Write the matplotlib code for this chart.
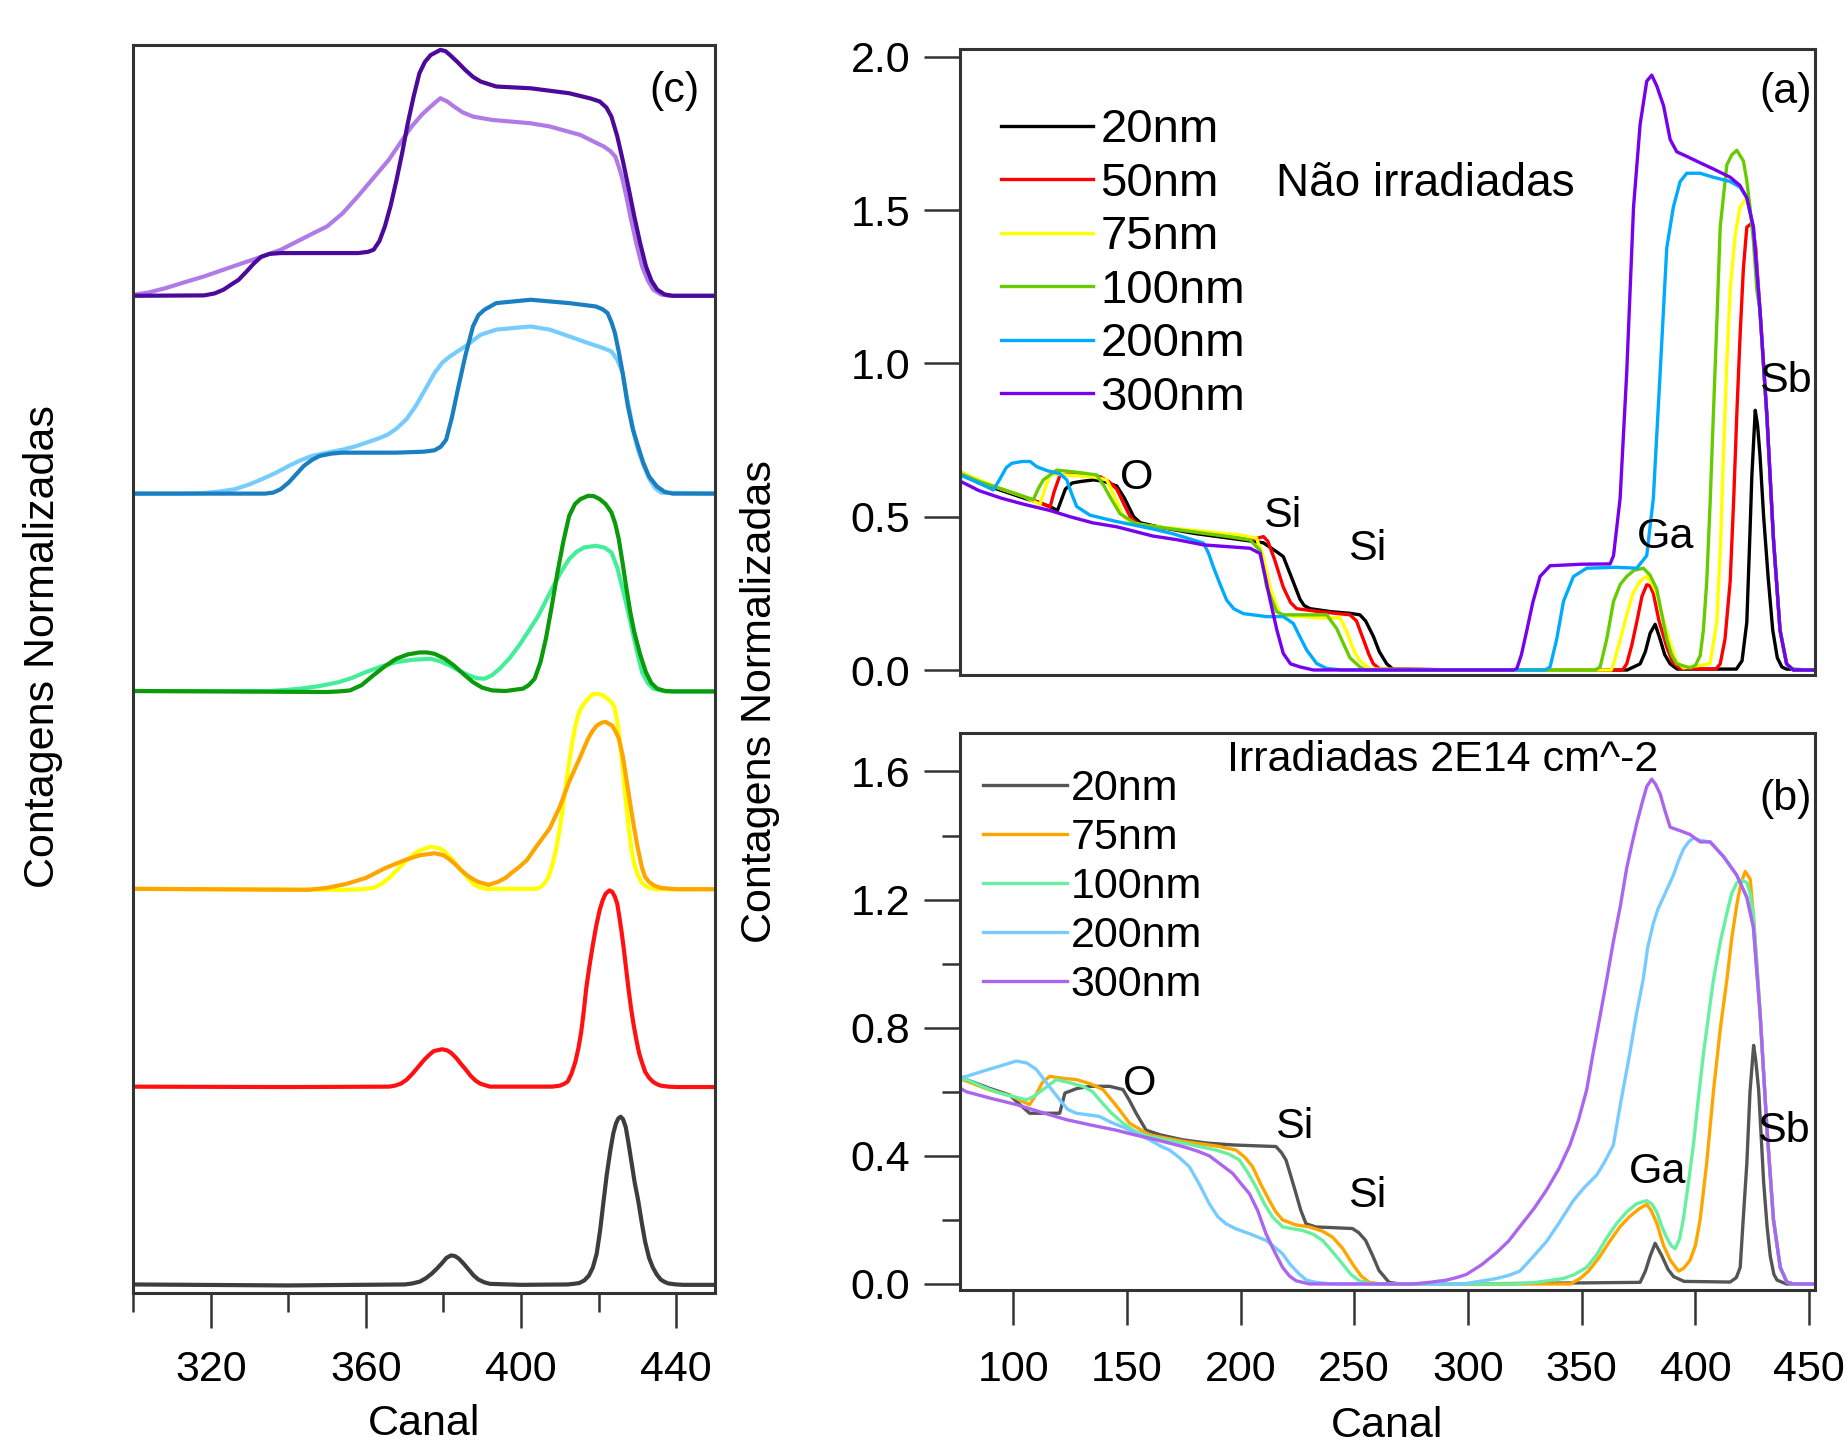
import matplotlib
matplotlib.use('Agg')
import numpy as np
import matplotlib.pyplot as plt
from matplotlib.ticker import MultipleLocator, FormatStrFormatter

plt.rcParams['font.family'] = ['Liberation Sans', 'DejaVu Sans']

# ---------------- data (canal, contagens normalizadas) ----------------
# panel (a): nao irradiadas
A_20NM = [(77, 0.64), (85, 0.61), (95, 0.585), (105, 0.56), (112, 0.545), (117, 0.53), (119.5, 0.52),
          (121, 0.55), (123, 0.59), (126, 0.61), (130, 0.615), (135.4, 0.62), (140, 0.615), (145.6, 0.6),
          (149, 0.56), (153, 0.5), (156, 0.48), (165, 0.465), (180, 0.445), (195, 0.43), (205, 0.42),
          (210, 0.415), (213, 0.4), (216, 0.385), (218.8, 0.37), (222, 0.31), (226.2, 0.23), (228, 0.21),
          (230.6, 0.2), (240, 0.19), (248, 0.185), (252.5, 0.18), (255, 0.16), (258.4, 0.11), (261, 0.06),
          (264.3, 0.02), (267, 0.003), (300, 0.0), (370, 0.0), (375.7, 0.02), (378, 0.06), (380.1, 0.12),
          (382.3, 0.149), (384.5, 0.1), (386.5, 0.05), (388.9, 0.02), (392, 0.003), (418, 0.003),
          (420.5, 0.03), (422.6, 0.156), (424, 0.45), (424.8, 0.63), (426.3, 0.847), (427.3, 0.8),
          (428.4, 0.7), (430, 0.5), (432, 0.3), (434, 0.13), (436, 0.04), (438, 0.01), (440, 0.003), (452, 0)]
A_50NM = [(77, 0.645), (85, 0.615), (95, 0.59), (105, 0.565), (112, 0.545), (116.3, 0.532), (118, 0.58),
          (120.6, 0.635), (125, 0.64), (130, 0.635), (138.3, 0.63), (142, 0.615), (145.6, 0.59),
          (148.5, 0.545), (151.5, 0.5), (155, 0.475), (165, 0.465), (180, 0.45), (195, 0.435), (205, 0.425),
          (210.1, 0.435), (212, 0.42), (215, 0.36), (218.8, 0.27), (222, 0.22), (224.7, 0.2), (235, 0.19),
          (248.1, 0.18), (251, 0.16), (254, 0.1), (256.5, 0.05), (258.4, 0.02), (261.3, 0.003), (300, 0.0),
          (368, 0.0), (369.8, 0.02), (372, 0.08), (374.2, 0.156), (376.5, 0.24), (378.6, 0.278), (380, 0.275),
          (381.5, 0.25), (384, 0.16), (387.4, 0.075), (390, 0.025), (393.3, 0.005), (409, 0.003),
          (410.9, 0.02), (413, 0.1), (415.3, 0.29), (416.8, 0.55), (418.2, 0.834), (419.7, 1.1), (421.1, 1.31),
          (422.6, 1.444), (424.8, 1.457), (426.5, 1.38), (428.4, 1.17), (431.4, 0.83), (434.3, 0.43),
          (437.2, 0.13), (440.1, 0.02), (443, 0), (452, 0)]
A_75NM = [(77, 0.645), (85, 0.62), (95, 0.59), (105, 0.565), (111.8, 0.54), (114, 0.59), (116.3, 0.64),
          (125, 0.635), (135, 0.63), (141.2, 0.62), (145, 0.56), (148.5, 0.5), (152, 0.48), (160, 0.47),
          (180, 0.455), (200, 0.44), (207, 0.43), (210, 0.37), (213, 0.27), (217.4, 0.18), (225, 0.175),
          (235, 0.17), (243.8, 0.17), (247, 0.12), (250, 0.06), (252.5, 0.03), (256.9, 0.003), (300, 0),
          (363, 0.0), (364, 0.02), (367, 0.1), (369.8, 0.18), (372.5, 0.25), (375.7, 0.29), (378.6, 0.305),
          (381, 0.28), (383, 0.25), (386, 0.16), (388.9, 0.088), (391.5, 0.03), (394.7, 0.007), (406.4, 0.02),
          (409.4, 0.156), (411, 0.4), (412.3, 0.7), (413.8, 1.0), (415.3, 1.24), (417.5, 1.42), (419.6, 1.51),
          (422.6, 1.54), (425.5, 1.444), (428.4, 1.17), (431.4, 0.83), (434.3, 0.43), (437.2, 0.13),
          (440.1, 0.02), (443, 0), (452, 0)]
A_100NM = [(77, 0.64), (85, 0.615), (95, 0.59), (103, 0.57), (108.9, 0.555), (111, 0.59), (113.3, 0.62),
           (119.2, 0.652), (128, 0.645), (136.8, 0.636), (140, 0.6), (142.6, 0.565), (147, 0.51),
           (154.4, 0.475), (165, 0.465), (180, 0.45), (195, 0.435), (204.2, 0.424), (208.6, 0.39),
           (211.5, 0.27), (215.9, 0.19), (218.8, 0.18), (230, 0.18), (237.9, 0.18), (242.3, 0.135), (245, 0.09),
           (248.1, 0.04), (252.5, 0.01), (255, 0.0), (300, 0), (356, 0), (358.1, 0.01), (361, 0.1), (364, 0.224),
           (367, 0.28), (369.8, 0.305), (373, 0.325), (377.1, 0.332), (380, 0.31), (383, 0.264), (385, 0.19),
           (387.4, 0.1), (389.5, 0.05), (391.8, 0.02), (397.7, 0.007), (400, 0.015), (402.1, 0.047),
           (403.5, 0.13), (405, 0.29), (406.5, 0.55), (407.9, 0.834), (409.5, 1.15), (410.9, 1.444),
           (413.8, 1.647), (416, 1.68), (418.2, 1.695), (421.1, 1.66), (422.5, 1.6), (424, 1.51), (425.5, 1.4),
           (427, 1.24), (428.4, 1.17), (431.4, 0.83), (434.3, 0.43), (437.2, 0.13), (440.1, 0.02), (443, 0),
           (452, 0)]
A_200NM = [(77, 0.635), (85, 0.61), (91.3, 0.587), (94, 0.62), (97, 0.66), (99.4, 0.674), (104, 0.68),
           (107.5, 0.68), (110.4, 0.663), (115, 0.65), (120.6, 0.64), (123.6, 0.62), (126, 0.57), (128, 0.533),
           (133.8, 0.505), (145, 0.485), (160.2, 0.462), (170, 0.445), (183.7, 0.414), (186, 0.38),
           (188, 0.337), (191, 0.28), (193.9, 0.228), (197, 0.2), (201.2, 0.184), (211.5, 0.174),
           (218.8, 0.174), (223.2, 0.152), (226, 0.11), (229.1, 0.065), (233.5, 0.021), (237.9, 0.005),
           (245, 0.0), (300, 0), (334, 0), (336.1, 0.01), (339, 0.1), (342, 0.224), (346.4, 0.305),
           (352.2, 0.332), (365, 0.335), (374.2, 0.332), (378.6, 0.373), (381.5, 0.56), (384.5, 0.97),
           (387.4, 1.376), (390.3, 1.51), (393.3, 1.593), (396.2, 1.62), (402.1, 1.62), (407.9, 1.607),
           (415.3, 1.593), (419.6, 1.575), (422.6, 1.54), (425.5, 1.444), (428.4, 1.17), (431.4, 0.83),
           (434.3, 0.43), (437.2, 0.13), (440.1, 0.02), (443, 0), (452, 0)]
A_300NM = [(77, 0.615), (85, 0.585), (95, 0.56), (105, 0.54), (116.3, 0.52), (125, 0.5), (135, 0.48),
           (145.6, 0.467), (161.4, 0.437), (172, 0.425), (183.7, 0.408), (195, 0.402), (204.2, 0.397),
           (208.6, 0.38), (211, 0.3), (213, 0.228), (216, 0.13), (218.8, 0.054), (222, 0.02), (226.2, 0.01),
           (232, 0.0), (300, 0), (320, 0), (321.5, 0.005), (323.5, 0.05), (325.9, 0.13), (328.5, 0.22),
           (331.7, 0.305), (336.1, 0.34), (350, 0.345), (362.5, 0.346), (364, 0.373), (366.9, 0.56),
           (369.8, 0.97), (372.8, 1.51), (375.7, 1.78), (378.6, 1.92), (380.8, 1.94), (383, 1.905),
           (386, 1.84), (388.9, 1.73), (391.8, 1.69), (396.2, 1.675), (402.1, 1.654), (407.9, 1.634),
           (415.3, 1.607), (419.6, 1.58), (422.6, 1.54), (425.5, 1.444), (428.4, 1.173), (431.4, 0.834),
           (434.3, 0.427), (437.2, 0.129), (440.1, 0.02), (443, 0), (452, 0)]

# panel (b): irradiadas 2E14 cm^-2
B_20NM = [(77, 0.64), (79.5, 0.638), (90, 0.61), (98.5, 0.59), (103, 0.56), (107.3, 0.533), (115, 0.533),
          (120.5, 0.533), (122.8, 0.596), (128, 0.61), (133.7, 0.617), (142.4, 0.617), (148.3, 0.607),
          (151, 0.575), (154.1, 0.533), (158.5, 0.48), (165, 0.465), (174.6, 0.45), (185, 0.44),
          (196.6, 0.434), (215.6, 0.429), (218, 0.41), (220, 0.387), (222, 0.34), (224.4, 0.282),
          (226.5, 0.23), (228.8, 0.188), (233.1, 0.178), (240, 0.176), (249.2, 0.173), (252, 0.16),
          (255, 0.136), (258, 0.09), (260.9, 0.042), (265.3, 0.005), (270, 0), (300, 0), (375.7, 0.005),
          (378, 0.04), (380.1, 0.087), (382.3, 0.127), (385.3, 0.087), (388, 0.045), (390.4, 0.023),
          (395, 0.008), (415.3, 0.006), (418, 0.02), (419.7, 0.052), (421, 0.2), (422.6, 0.375), (424, 0.6),
          (425.6, 0.745), (426.5, 0.7), (427.8, 0.606), (429, 0.45), (430, 0.318), (431.5, 0.18),
          (432.9, 0.087), (434.5, 0.03), (435.9, 0.012), (440, 0), (452, 0)]
B_75NM = [(77, 0.64), (90, 0.605), (100, 0.585), (104, 0.57), (107.3, 0.56), (110, 0.59), (113, 0.63),
          (116.1, 0.648), (122, 0.642), (127.8, 0.638), (134, 0.625), (139.5, 0.607), (145, 0.56),
          (151.2, 0.502), (160, 0.465), (175, 0.445), (190, 0.43), (198, 0.418), (202, 0.395), (205.3, 0.366),
          (209, 0.31), (212.7, 0.26), (215.5, 0.225), (218.5, 0.2), (224, 0.185), (230.2, 0.178), (236, 0.165),
          (240.5, 0.146), (245, 0.11), (249.2, 0.063), (253, 0.025), (256.6, 0.005), (262, 0), (300, 0),
          (345, 0), (349.3, 0.017), (353, 0.04), (358.1, 0.087), (362, 0.13), (366.9, 0.179), (371, 0.21),
          (375.7, 0.237), (378.6, 0.248), (380.5, 0.23), (383, 0.19), (386, 0.12), (388.9, 0.075),
          (392.6, 0.04), (395, 0.05), (397.7, 0.075), (400, 0.12), (402.1, 0.202), (405, 0.38), (408, 0.606),
          (411, 0.8), (413.9, 0.953), (416, 1.08), (418.2, 1.184), (420, 1.25), (421.9, 1.288),
          (424.1, 1.264), (425.5, 1.15), (427, 1.0), (428.5, 0.84), (431.4, 0.49), (434.3, 0.2),
          (437.3, 0.05), (440.2, 0.006), (443, 0), (452, 0)]
B_100NM = [(77, 0.64), (79.5, 0.638), (87, 0.615), (94.1, 0.596), (100, 0.585), (105.9, 0.575), (109, 0.585),
           (113.2, 0.607), (119, 0.638), (125, 0.628), (130.7, 0.617), (135, 0.6), (138, 0.575), (143, 0.535),
           (148.3, 0.502), (154, 0.475), (160, 0.46), (174.6, 0.44), (189.2, 0.418), (195, 0.405),
           (199.5, 0.387), (203, 0.35), (206.8, 0.303), (210.5, 0.25), (214.1, 0.209), (218.5, 0.178),
           (227.3, 0.167), (232, 0.155), (236.1, 0.136), (240.5, 0.1), (244.8, 0.063), (248.5, 0.03),
           (252.2, 0.01), (258, 0), (300, 0), (320, 0), (330, 0.005), (341.9, 0.017), (347, 0.03),
           (352.2, 0.052), (356.5, 0.09), (361, 0.144), (365.5, 0.19), (369.8, 0.225), (374, 0.25),
           (378.6, 0.26), (380.8, 0.25), (383, 0.225), (385.2, 0.18), (387.4, 0.144), (389.3, 0.12),
           (391.1, 0.11), (393, 0.14), (394.7, 0.202), (397, 0.32), (399.1, 0.433), (401.3, 0.58),
           (403.6, 0.722), (406, 0.85), (408, 0.953), (411, 1.07), (413.9, 1.16), (416, 1.22), (418.2, 1.253),
           (420.5, 1.26), (422.6, 1.253), (424, 1.22), (425.5, 1.15), (427, 1.0), (428.5, 0.837),
           (431.4, 0.49), (434.3, 0.202), (437.3, 0.052), (440.2, 0.006), (443, 0), (452, 0)]
B_200NM = [(77, 0.645), (79.5, 0.648), (87, 0.665), (94.1, 0.68), (101.5, 0.696), (106, 0.69), (110.2, 0.67),
           (115, 0.625), (120.5, 0.575), (124, 0.545), (127.8, 0.533), (133, 0.528), (138, 0.523),
           (143, 0.505), (148.3, 0.49), (154, 0.47), (160, 0.45), (165, 0.43), (168.8, 0.418), (173, 0.395),
           (177.5, 0.366), (182, 0.31), (186.3, 0.25), (190, 0.21), (193.6, 0.188), (198, 0.172),
           (203.9, 0.157), (211.2, 0.136), (215, 0.115), (218.5, 0.094), (222, 0.06), (225.8, 0.031),
           (229, 0.012), (233.1, 0.005), (240, 0), (298, 0), (305, 0.008), (312.6, 0.017), (318, 0.027),
           (322.8, 0.04), (328, 0.08), (334.6, 0.133), (340, 0.19), (346.3, 0.26), (351, 0.3), (356.6, 0.34),
           (360, 0.38), (363.9, 0.433), (367, 0.56), (371.2, 0.722), (374, 0.84), (377.1, 0.953), (379, 1.05),
           (381.5, 1.126), (383.5, 1.17), (385.9, 1.207), (388, 1.24), (390.3, 1.276), (392.5, 1.32),
           (394.7, 1.357), (397, 1.38), (399.1, 1.392), (402.1, 1.385), (406.5, 1.38), (412.4, 1.334),
           (418.2, 1.276), (422.6, 1.207), (425.5, 1.114), (428.5, 0.837), (431.4, 0.49), (434.3, 0.202),
           (437.3, 0.052), (440.2, 0.006), (443, 0), (452, 0)]
B_300NM = [(77, 0.61), (79.5, 0.6), (90, 0.58), (101.5, 0.56), (112, 0.537), (123.4, 0.513), (135, 0.495),
           (145.4, 0.48), (152, 0.468), (160, 0.455), (167, 0.443), (174.6, 0.429), (181, 0.415),
           (186.3, 0.4), (191, 0.375), (196.6, 0.345), (200, 0.315), (203.9, 0.282), (207.5, 0.23),
           (211.2, 0.157), (215, 0.1), (218.5, 0.052), (221.5, 0.025), (224.4, 0.01), (230.2, 0),
           (275.9, 0), (283, 0.005), (290.6, 0.012), (295, 0.02), (299.4, 0.03), (306, 0.06), (312.6, 0.098),
           (318, 0.135), (322.8, 0.179), (329, 0.235), (334.6, 0.294), (340, 0.36), (344.8, 0.433),
           (348.5, 0.51), (352.2, 0.606), (355, 0.72), (358.1, 0.837), (361, 0.95), (363.9, 1.068),
           (367, 1.18), (369.8, 1.299), (372, 1.37), (374.2, 1.438), (376.5, 1.5), (378.6, 1.553),
           (380.8, 1.576), (382.5, 1.56), (384.5, 1.53), (386.5, 1.48), (388.9, 1.426), (393.3, 1.415),
           (397.7, 1.403), (402.1, 1.38), (406.5, 1.38), (412.4, 1.334), (418.2, 1.276), (422.6, 1.207),
           (425.5, 1.114), (428.5, 0.837), (431.4, 0.49), (434.3, 0.202), (437.3, 0.052), (440.2, 0.006),
           (443, 0), (452, 0)]

# panel (c): zoom 300-450, each pair shifted by one unit
C_20NM = [(300, 0.005), (340, 0.0), (370, 0.005), (372, 0.01), (374, 0.02), (375.5, 0.037), (377, 0.06),
          (378.3, 0.085), (379.5, 0.11), (380.8, 0.14), (382, 0.152), (383, 0.148), (384, 0.135),
          (385.2, 0.11), (386.5, 0.08), (387.8, 0.05), (389, 0.03), (390.5, 0.016), (392, 0.008), (400, 0.003),
          (412, 0.005), (413.5, 0.008), (415, 0.012), (416.3, 0.025), (417.5, 0.05), (418.5, 0.09),
          (419.5, 0.16), (420.4, 0.28), (421.3, 0.43), (422.1, 0.56), (423, 0.68), (423.8, 0.77), (424.5, 0.82),
          (425.1, 0.845), (425.7, 0.853), (426.3, 0.84), (427, 0.8), (427.7, 0.72), (428.5, 0.62),
          (429.3, 0.52), (430.2, 0.43), (431.1, 0.32), (432, 0.22), (433, 0.14), (434, 0.09), (435, 0.055),
          (436, 0.03), (437, 0.018), (438, 0.01), (440, 0.005), (442, 0.003), (450, 0.003)]
C_50NM = [(300, 0.005), (340, 0.003), (366, 0.005), (367.5, 0.01), (369, 0.02), (370.5, 0.04), (372, 0.07),
          (373.5, 0.105), (375, 0.14), (376.3, 0.165), (377.5, 0.185), (379.7, 0.194), (381, 0.188),
          (382, 0.175), (383.3, 0.15), (384.5, 0.12), (385.8, 0.09), (387, 0.06), (388.3, 0.035),
          (389.5, 0.02), (392, 0.005), (408, 0.005), (410, 0.01), (411, 0.018), (412, 0.03), (413, 0.07),
          (414, 0.13), (414.8, 0.2), (415.5, 0.28), (416.2, 0.39), (416.8, 0.5), (417.6, 0.61), (418.5, 0.72),
          (419.4, 0.82), (420.3, 0.9), (421.1, 0.95), (421.8, 0.98), (422.8, 0.997), (423.5, 0.99),
          (424.2, 0.965), (424.8, 0.93), (425.3, 0.87), (425.9, 0.79), (426.5, 0.7), (427.1, 0.6),
          (427.7, 0.5), (428.3, 0.41), (429, 0.32), (429.8, 0.235), (430.5, 0.17), (431.3, 0.12), (432, 0.08),
          (433, 0.05), (434, 0.03), (435, 0.018), (436, 0.01), (438, 0.005), (440, 0.003), (450, 0.003)]
C_75NM = [(300, 0.005), (355, 0.0), (359, 0.003), (362, 0.01), (364, 0.03), (366, 0.06), (368, 0.1),
          (370, 0.14), (372, 0.175), (374, 0.2), (376.7, 0.218), (379, 0.21), (380.5, 0.19), (382, 0.16),
          (383.5, 0.125), (385, 0.09), (386.5, 0.055), (388, 0.025), (389.5, 0.012), (391, 0.005),
          (404, 0.005), (405.5, 0.02), (407, 0.06), (408, 0.12), (409, 0.2), (410, 0.31), (411, 0.45),
          (412, 0.59), (413, 0.72), (414, 0.83), (415, 0.9), (416, 0.935), (417, 0.96), (418.5, 0.99),
          (420, 0.99), (421, 0.985), (422, 0.97), (423, 0.955), (424, 0.93), (424.8, 0.85), (425.5, 0.75),
          (426.3, 0.6), (427, 0.45), (427.8, 0.31), (428.5, 0.2), (429.2, 0.13), (430, 0.08), (431, 0.04),
          (432, 0.02), (433.5, 0.008), (435, 0.003), (450, 0.003)]
C_75NM_IRR = [(300, 0.005), (345, 0.0), (350, 0.01), (355, 0.03), (360, 0.06), (365, 0.11), (370, 0.15),
              (374, 0.175), (377.7, 0.185), (380, 0.175), (381.5, 0.155), (383, 0.13), (384.5, 0.1),
              (386, 0.075), (387.5, 0.055), (389, 0.04), (391.6, 0.025), (394, 0.04), (396, 0.06),
              (397.5, 0.085), (399.5, 0.115), (401.5, 0.15), (404, 0.22), (407.4, 0.311), (410, 0.42),
              (412.4, 0.546), (415, 0.66), (417.3, 0.765), (418.5, 0.805), (419.5, 0.83), (420.8, 0.845),
              (421.8, 0.849), (423.5, 0.83), (424.4, 0.8), (425.2, 0.765), (426.2, 0.68), (427, 0.58),
              (428.2, 0.429), (429.1, 0.32), (430, 0.22), (431.2, 0.11), (432, 0.065), (433, 0.04),
              (434.5, 0.02), (436, 0.01), (440, 0.003), (450, 0.003)]
C_100NM = [(300, 0.005), (350, 0.0), (353, 0.003), (355.9, 0.008), (358.9, 0.035), (361.9, 0.084),
           (364.9, 0.13), (367.8, 0.168), (370.8, 0.19), (373.8, 0.2), (375.8, 0.2), (377.7, 0.193),
           (380.2, 0.17), (382.7, 0.134), (385.2, 0.09), (387.6, 0.05), (390, 0.022), (392.6, 0.008),
           (396, 0.005), (400.5, 0.017), (402, 0.035), (403.5, 0.067), (405, 0.15), (406.4, 0.269),
           (407.9, 0.43), (409.4, 0.605), (410.9, 0.76), (412.4, 0.89), (413.9, 0.95), (415.3, 0.975),
           (417.3, 0.992), (418.8, 0.99), (420.3, 0.975), (421.8, 0.95), (423.3, 0.908), (424.3, 0.85),
           (425.2, 0.773), (426.2, 0.65), (427.2, 0.52), (428.2, 0.4), (429.2, 0.303), (430.7, 0.19),
           (432.2, 0.1), (433.6, 0.045), (435.1, 0.017), (437, 0.006), (439.1, 0.003), (450, 0.003)]
C_100NM_IRR = [(300, 0.005), (335, 0.005), (339, 0.01), (343.1, 0.017), (348, 0.03), (353, 0.05),
               (356.5, 0.072), (359.9, 0.1), (363.8, 0.128), (367.8, 0.151), (372, 0.163), (376.7, 0.168),
               (379.2, 0.155), (381.6, 0.134), (384, 0.108), (386.6, 0.084), (388.6, 0.07), (390.6, 0.067),
               (392.5, 0.085), (394.5, 0.118), (397, 0.17), (399.5, 0.235), (402, 0.31), (404.5, 0.387),
               (406.5, 0.465), (408.4, 0.538), (410.4, 0.61), (412.4, 0.672), (414.4, 0.71), (416.3, 0.731),
               (419.3, 0.739), (421.5, 0.73), (423.3, 0.706), (424.8, 0.63), (426.2, 0.521), (427.2, 0.44),
               (428.2, 0.353), (429.7, 0.22), (431.2, 0.1), (432.7, 0.045), (434.1, 0.017), (437.1, 0.003),
               (450, 0.003)]
C_200NM = [(300, 0.003), (334, 0.003), (336.1, 0.008), (338, 0.025), (340.1, 0.059), (342, 0.1), (344, 0.143),
           (346, 0.172), (348, 0.193), (351, 0.205), (353.9, 0.21), (367.8, 0.21), (375, 0.215),
           (377.7, 0.222), (379.3, 0.24), (380.7, 0.276), (382.2, 0.39), (383.7, 0.529), (385.6, 0.697),
           (387.6, 0.848), (389, 0.905), (390.6, 0.933), (393.6, 0.966), (402.5, 0.983), (412.4, 0.966),
           (419.3, 0.949), (421, 0.935), (422.3, 0.916), (423.3, 0.87), (424.2, 0.815), (425.2, 0.72),
           (426.2, 0.613), (427.5, 0.45), (428.8, 0.33), (430.2, 0.24), (431.5, 0.16), (433, 0.09),
           (435, 0.04), (437, 0.012), (439.1, 0.003), (450, 0.003)]
C_200NM_IRR = [(300, 0.003), (312, 0.003), (318.3, 0.006), (322, 0.013), (326.2, 0.025), (330, 0.05),
               (333.2, 0.076), (337, 0.11), (340.1, 0.143), (343, 0.17), (346, 0.193), (350, 0.21),
               (353.9, 0.225), (357, 0.24), (360, 0.26), (363, 0.28), (365.5, 0.3), (367.8, 0.33),
               (370.5, 0.38), (372.8, 0.444), (375.3, 0.53), (377.7, 0.613), (379.7, 0.665), (381.7, 0.697),
               (385.6, 0.747), (389.6, 0.806), (393.6, 0.832), (402.5, 0.848), (407.4, 0.832), (412.4, 0.798),
               (417.3, 0.764), (421, 0.74), (423.3, 0.722), (424.8, 0.68), (426.2, 0.613), (427.2, 0.5),
               (428.2, 0.4), (429.2, 0.3), (430.2, 0.22), (431.7, 0.14), (433.1, 0.076), (434.6, 0.03),
               (436.1, 0.008), (450, 0.003)]
C_300NM = [(300, 0.003), (318.3, 0.005), (321, 0.015), (323.3, 0.034), (325.3, 0.06), (327.2, 0.084),
           (329.2, 0.125), (331.2, 0.168), (333, 0.2), (335.2, 0.215), (338, 0.219), (343.1, 0.219),
           (358, 0.219), (360.5, 0.225), (362, 0.236), (363.5, 0.28), (364.9, 0.354), (366.4, 0.46),
           (367.9, 0.589), (369.4, 0.73), (370.8, 0.875), (372.3, 1.01), (373.8, 1.128), (375.2, 1.185),
           (376.7, 1.22), (379.2, 1.246), (380.5, 1.24), (381.7, 1.22), (383.6, 1.185), (385.6, 1.145),
           (387.6, 1.11), (389.6, 1.086), (393.6, 1.061), (402.5, 1.052), (412.4, 1.027), (418, 1.0),
           (420.3, 0.985), (422, 0.955), (423.3, 0.909), (424.8, 0.81), (426.2, 0.69), (427.7, 0.55),
           (429.2, 0.404), (430.7, 0.27), (432.2, 0.152), (433.6, 0.08), (435.1, 0.034), (437, 0.01),
           (439.1, 0.003), (450, 0.003)]
C_300NM_IRR = [(300, 0.008), (304, 0.02), (308.4, 0.042), (313, 0.07), (318.3, 0.101), (323, 0.133),
               (328.2, 0.168), (333, 0.2), (338.1, 0.236), (343.1, 0.286), (346.5, 0.32), (350, 0.354),
               (354, 0.42), (357.9, 0.505), (362, 0.6), (365.9, 0.69), (369, 0.78), (371.8, 0.859),
               (374.5, 0.92), (376.7, 0.96), (379.2, 1.002), (381, 0.985), (382.7, 0.96), (385, 0.93),
               (387.6, 0.909), (392.6, 0.892), (402.5, 0.875), (407.4, 0.859), (415.3, 0.816), (419, 0.78),
               (421.3, 0.758), (423, 0.735), (424.3, 0.707), (425.3, 0.65), (426.2, 0.589), (427.2, 0.5),
               (428.2, 0.404), (429.7, 0.27), (431.2, 0.152), (432.7, 0.08), (434.1, 0.034), (436, 0.01),
               (438.1, 0.003), (450, 0.003)]

LABELS_A = ['20nm', '50nm', '75nm', '100nm', '200nm', '300nm']
COLORS_A = ['#000000', '#ff0000', '#ffff00', '#66cc00', '#00aaff', '#7700ee']
LABELS_B = ['20nm', '75nm', '100nm', '200nm', '300nm']
COLORS_B = ['#555555', '#ffa500', '#66f0a0', '#77ccff', '#aa66ee']

# panel (c): (curve, colour) stacked bottom to top
C_STACK = [
    [(C_20NM, '#3d3d3d')],
    [(C_50NM, '#ff1111')],
    [(C_75NM, '#ffff00'), (C_75NM_IRR, '#ffa500')],
    [(C_100NM_IRR, '#44ee99'), (C_100NM, '#0a9a0a')],
    [(C_200NM_IRR, '#77ccff'), (C_200NM, '#1a7fc0')],
    [(C_300NM_IRR, '#b07be8'), (C_300NM, '#4b0a9a')],
]


def xy(pts):
    a = np.array(pts, dtype=float)
    return a[:, 0], a[:, 1]


FS = 31
FRAME = '#333333'

fig = plt.figure(figsize=(18.47, 14.43), dpi=100)
ax_c = fig.add_axes([0.0721, 0.1037, 0.315, 0.865])
ax_a = fig.add_axes([0.5198, 0.5325, 0.4629, 0.4335])
ax_b = fig.add_axes([0.5198, 0.106, 0.4629, 0.386])

for ax in (ax_a, ax_b, ax_c):
    for s in ax.spines.values():
        s.set_linewidth(2.2)
        s.set_color(FRAME)
    ax.tick_params(direction='out', width=1.8, color=FRAME, labelsize=FS)

# ---- (a) ----
for pts, lab, col in zip([A_20NM, A_50NM, A_75NM, A_100NM, A_200NM, A_300NM], LABELS_A, COLORS_A):
    x, y = xy(pts)
    ax_a.plot(x, y, color=col, lw=2.4, label=lab)
ax_a.set_xlim(76.7, 452.6)
ax_a.set_ylim(-0.015, 2.025)
ax_a.yaxis.set_major_locator(MultipleLocator(0.5))
ax_a.yaxis.set_major_formatter(FormatStrFormatter('%.1f'))
ax_a.tick_params(axis='y', length=26, pad=10)
ax_a.tick_params(axis='x', bottom=False, labelbottom=False)
ax_a.legend(loc='upper left', bbox_to_anchor=(0.048, 0.905), frameon=False, fontsize=34,
            handlelength=1.95, handletextpad=0.15, labelspacing=0.2, borderpad=0, borderaxespad=0)
ax_a.text(215.7, 1.585, 'Não irradiadas', fontsize=33, ha='left', va='center')
ax_a.text(439.7, 1.885, '(a)', fontsize=FS, ha='center', va='center')
for txt, tx, ty in [('O', 154.5, 0.626), ('Si', 218.3, 0.503), ('Si', 255.6, 0.395),
                    ('Ga', 386.8, 0.434), ('Sb', 439.7, 0.944)]:
    ax_a.text(tx, ty, txt, fontsize=FS, ha='center', va='center')

# ---- (b) ----
for pts, lab, col in zip([B_20NM, B_75NM, B_100NM, B_200NM, B_300NM], LABELS_B, COLORS_B):
    x, y = xy(pts)
    ax_b.plot(x, y, color=col, lw=2.4, label=lab)
ax_b.set_xlim(76.7, 452.6)
ax_b.set_ylim(-0.019, 1.72)
ax_b.xaxis.set_major_locator(MultipleLocator(50))
ax_b.yaxis.set_major_locator(MultipleLocator(0.4))
ax_b.yaxis.set_minor_locator(MultipleLocator(0.2))
ax_b.yaxis.set_major_formatter(FormatStrFormatter('%.1f'))
ax_b.tick_params(axis='y', which='major', length=26, pad=10)
ax_b.tick_params(axis='y', which='minor', length=13, width=1.8, color=FRAME)
ax_b.tick_params(axis='x', length=25, pad=18)
ax_b.legend(loc='upper left', bbox_to_anchor=(0.027, 0.935), frameon=False, fontsize=31,
            handlelength=1.95, handletextpad=0.08, labelspacing=0.21, borderpad=0, borderaxespad=0)
ax_b.text(288.8, 1.637, 'Irradiadas 2E14 cm^-2', fontsize=FS, ha='center', va='center')
ax_b.text(439.7, 1.515, '(b)', fontsize=FS, ha='center', va='center')
for txt, tx, ty in [('O', 155.5, 0.625), ('Si', 223.5, 0.489), ('Si', 255.6, 0.276),
                    ('Ga', 383.2, 0.349), ('Sb', 438.7, 0.478)]:
    ax_b.text(tx, ty, txt, fontsize=FS, ha='center', va='center')
ax_b.set_xlabel('Canal', fontsize=FS, labelpad=12)

# ---- (c) ----
for k, group in enumerate(C_STACK):
    for pts, col in group:
        x, y = xy(pts)
        ax_c.plot(x, y + k * 1.0, color=col, lw=3.0, solid_joinstyle='round')
ax_c.set_xlim(300, 450)
ax_c.set_ylim(-0.04, 6.27)
ax_c.xaxis.set_minor_locator(MultipleLocator(20))
ax_c.set_xticks([320, 360, 400, 440])
ax_c.tick_params(axis='x', which='major', length=25, pad=16)
ax_c.tick_params(axis='x', which='minor', length=14, width=1.8, color=FRAME)
ax_c.tick_params(axis='y', left=False, labelleft=False)
ax_c.text(439.6, 6.04, '(c)', fontsize=FS, ha='center', va='center')
ax_c.set_xlabel('Canal', fontsize=FS, labelpad=10)

fig.text(0.0235, 0.552, 'Contagens Normalizadas', rotation=90, fontsize=FS, ha='center', va='center')
fig.text(0.4115, 0.514, 'Contagens Normalizadas', rotation=90, fontsize=FS, ha='center', va='center')

fig.savefig('out.png', dpi=100)
